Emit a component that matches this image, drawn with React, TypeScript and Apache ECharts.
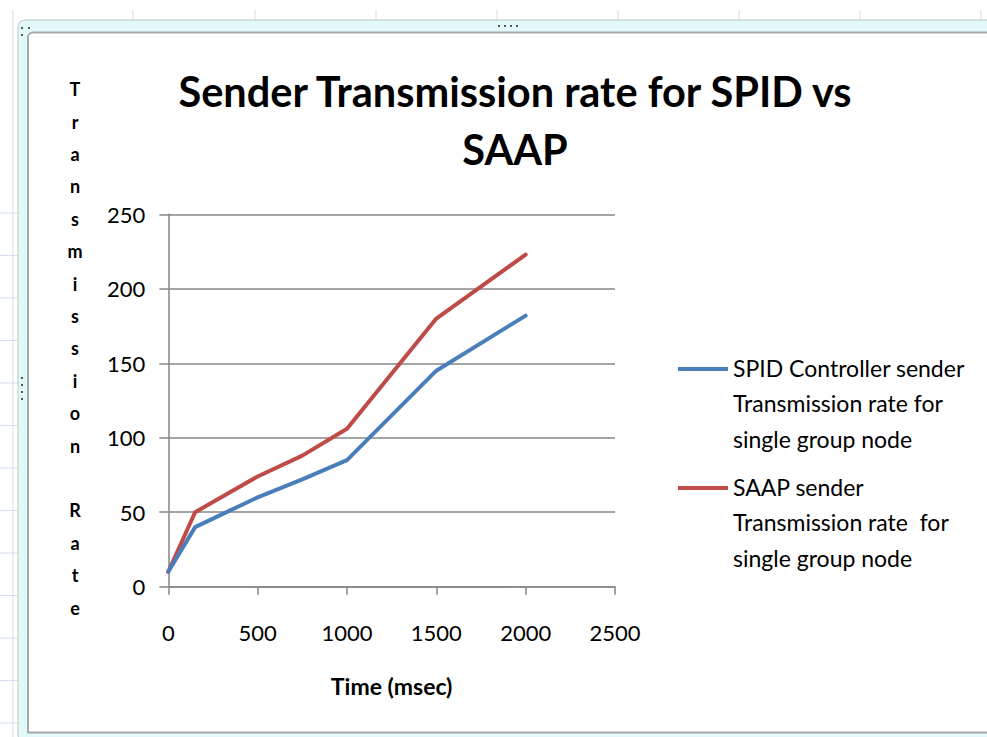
import React, { useEffect, useRef } from "react";
import * as echarts from "echarts";

const titleText = "Sender Transmission rate for SPID vs\nSAAP";
const yAxisTitle = "Transmission Rate";
const xAxisTitle = "Time (msec)";
const timeMs = [0, 150, 500, 750, 1000, 1500, 2000];
const spidRate = [10, 40, 60, 72, 85, 145, 182];
const saapRate = [10, 50, 74, 88, 106, 180, 223];
const seriesNames = [
  "SPID Controller sender\nTransmission rate for\nsingle group node",
  "SAAP sender\nTransmission rate  for\nsingle group node",
];
const seriesColors = ["#4a7ebb", "#be4b48"];

const FONT = "Lato";
const AXIS_GRAY = "#868686";
const SHEET_GRID = "#d4dbea";

export default function App() {
  const ref = useRef<HTMLDivElement>(null);

  useEffect(() => {
    if (!ref.current) return;
    const chart = echarts.init(ref.current, undefined, { renderer: "svg" });

    const bg: any[] = [];
    [13, 133, 255, 376, 497, 618, 739, 860, 981].forEach((x) => {
      bg.push({
        type: "line",
        z: -20,
        shape: { x1: x, y1: 10, x2: x, y2: x === 13 ? 737 : 21 },
        style: { stroke: SHEET_GRID, lineWidth: 1 },
      });
    });
    [213, 255.5, 298, 340.5, 383, 425.5, 468, 510.5, 553, 595.5, 638, 680.5, 723].forEach((y) => {
      bg.push({
        type: "line",
        z: -20,
        shape: { x1: 0, y1: y, x2: 18, y2: y },
        style: { stroke: SHEET_GRID, lineWidth: 1 },
      });
    });
    bg.push({
      type: "rect",
      z: -15,
      shape: { x: 18, y: 20, width: 1000, height: 722, r: 7 },
      style: { fill: "#e2f9fa", stroke: "#b9c6c6", lineWidth: 1 },
    });
    bg.push({
      type: "rect",
      z: -14,
      shape: { x: 28, y: 32.5, width: 1000, height: 700, r: [5, 0, 0, 0] },
      style: { fill: "#ffffff", stroke: "#a4a9a9", lineWidth: 2 },
    });
    [[21, 27], [28, 27], [21, 34]].forEach(([x, y]) => {
      bg.push({ type: "rect", z: -13, shape: { x, y, width: 2, height: 2 }, style: { fill: "#555" } });
    });
    [498, 504, 510, 516].forEach((x) => {
      bg.push({ type: "rect", z: -13, shape: { x, y: 25, width: 2, height: 2 }, style: { fill: "#555" } });
    });
    [377, 384, 391, 398].forEach((y) => {
      bg.push({ type: "rect", z: -13, shape: { x: 21, y, width: 2, height: 2 }, style: { fill: "#555" } });
    });

    // y axis title, stacked letters
    bg.push({
      type: "text",
      z: 5,
      x: 75,
      y: 73,
      style: {
        text: yAxisTitle.split("").join("\n"),
        font: `bold 18px ${FONT}`,
        fill: "#000",
        align: "center",
        verticalAlign: "top",
        lineHeight: 32.4,
      },
    });

    // legend
    const legendIconY = [369, 488];
    seriesNames.forEach((name, i) => {
      bg.push({
        type: "line",
        z: 5,
        shape: { x1: 678, y1: legendIconY[i], x2: 728, y2: legendIconY[i] },
        style: { stroke: seriesColors[i], lineWidth: 4 },
      });
      bg.push({
        type: "text",
        z: 5,
        x: 733,
        y: legendIconY[i] - 19,
        style: {
          text: name,
          font: `23px ${FONT}`,
          fill: "#000",
          align: "left",
          verticalAlign: "top",
          lineHeight: 35.5,
        },
      });
    });

    chart.setOption({
      animation: false,
      backgroundColor: "#ffffff",
      title: {
        text: titleText,
        left: 510,
        top: 57,
        textAlign: "center",
        textStyle: {
          fontFamily: FONT,
          fontWeight: "bold",
          fontSize: 41.5,
          lineHeight: 58,
          color: "#000",
        },
      },
      graphic: bg,
      grid: { left: 168.3, right: 372, top: 214.3, bottom: 150.3, containLabel: false },
      xAxis: {
        type: "value",
        min: 0,
        max: 2500,
        interval: 500,
        name: xAxisTitle,
        nameLocation: "middle",
        nameGap: 88,
        nameTextStyle: { fontFamily: FONT, fontWeight: "bold", fontSize: 23, color: "#000" },
        axisLine: { show: true, lineStyle: { color: AXIS_GRAY, width: 1.5 } },
        axisTick: { show: true, length: 8, inside: false, lineStyle: { color: AXIS_GRAY, width: 1.5 } },
        axisLabel: {
          margin: 35,
          fontFamily: FONT,
          fontSize: 22,
          color: "#000",
          formatter: (v: number) => String(v),
        },
        splitLine: { show: false },
      },
      yAxis: {
        type: "value",
        min: 0,
        max: 250,
        interval: 50,
        axisLine: { show: true, lineStyle: { color: AXIS_GRAY, width: 1.5 } },
        axisTick: { show: true, length: 9, inside: false, lineStyle: { color: AXIS_GRAY, width: 1.5 } },
        axisLabel: {
          margin: 23,
          fontFamily: FONT,
          fontSize: 22,
          color: "#000",
          formatter: (v: number) => String(v),
        },
        splitLine: { show: true, lineStyle: { color: AXIS_GRAY, width: 1.5 } },
      },
      series: [
        {
          name: seriesNames[0],
          type: "line",
          data: timeMs.map((t, i) => [t, spidRate[i]]),
          showSymbol: false,
          symbol: "none",
          lineStyle: { color: seriesColors[0], width: 4, cap: "round", join: "round" },
          z: 3,
        },
        {
          name: seriesNames[1],
          type: "line",
          data: timeMs.map((t, i) => [t, saapRate[i]]),
          showSymbol: false,
          symbol: "none",
          lineStyle: { color: seriesColors[1], width: 4, cap: "round", join: "round" },
          z: 2,
        },
      ],
    });

    return () => chart.dispose();
  }, []);

  return (
    <div
      ref={ref}
      style={{ position: "absolute", left: 0, top: 0, width: 987, height: 737 }}
    />
  );
}
